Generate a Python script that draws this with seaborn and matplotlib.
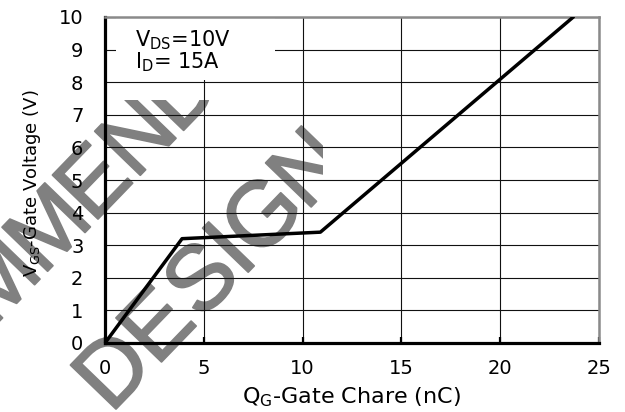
import math
import matplotlib
matplotlib.use("Agg")
import matplotlib.pyplot as plt
import matplotlib.patheffects as pe
import pandas as pd
import seaborn as sns
from matplotlib.font_manager import FontProperties
from matplotlib.patches import Rectangle
from matplotlib.textpath import TextPath
from matplotlib.transforms import Bbox, TransformedBbox

# Gate-charge curve: VGS versus QG (VDS = 10 V, ID = 15 A)
qg_nc = [0.0, 3.9, 10.9, 23.7]
vgs_v = [0.0, 3.2, 3.4, 10.0]

x_ticks = [0, 5, 10, 15, 20, 25]
y_ticks = list(range(0, 11))

x_label = r"Q$_G$-Gate Chare (nC)"
y_label = r"V$_{GS}$-Gate Voltage (V)"
cond_lines = [r"V$_{DS}$=10V", r"I$_D$= 15A"]

# stamp across the plot
stamp_line1 = "RECOMMENDED"
stamp_line2 = "DESIGN"

sns.set_theme(style="white")
plt.rcParams["font.family"] = ["DejaVu Sans"]
plt.rcParams["mathtext.default"] = "regular"
for key in ("text.color", "axes.labelcolor", "xtick.color", "ytick.color"):
    plt.rcParams[key] = "black"

W, H = 625, 412
DPI = 100
fig = plt.figure(figsize=(W / DPI, H / DPI), dpi=DPI)
fig.patch.set_facecolor("white")

# plot area in pixels: x 105..599, y 17..343 (from top)
ax = fig.add_axes([105 / W, 1 - 343 / H, 494 / W, 326 / H])
ax.set_facecolor("none")

# ---- stamp: sans letters set one by one along a slanted baseline
st_family = "Liberation Sans"
st_em = 92.0          # px
st_gap = 11.0         # px between letters
st_color = "#808080"
st_prop = FontProperties(family=st_family)
st_angle = 46
ux, uy = math.cos(math.radians(st_angle)), -math.sin(math.radians(st_angle))
st_clip = TransformedBbox(Bbox.from_extents(0, 0, 323 / W, 1 - 100 / H), fig.transFigure)
st_effects = [pe.withStroke(linewidth=1.3, foreground=st_color)]


def ink_span(ch):
    ext = TextPath((0, 0), ch, size=st_em, prop=st_prop).get_extents()
    return ext.x0, ext.x1


def stamp_word(word, ref_index, ref_px):
    """Letter `ref_index` has its ink starting at pixel ref_px (image coords)."""
    spans = [ink_span(ch) for ch in word]
    starts = [0.0]
    for (a, b) in spans[:-1]:
        starts.append(starts[-1] + (b - a) + st_gap)
    base = starts[ref_index]
    for ch, s, (a, b) in zip(word, starts, spans):
        d = s - base - a          # glyph origin along the baseline
        px, py = ref_px[0] + d * ux, ref_px[1] + d * uy
        t = fig.text(px / W, 1 - py / H, ch, rotation=st_angle, rotation_mode="anchor",
                     ha="left", va="baseline", fontsize=st_em * 72 / DPI,
                     family=st_family, color=st_color, zorder=-1,
                     path_effects=st_effects)
        t.set_clip_box(st_clip)
        t.set_clip_on(True)


stamp_word(stamp_line1, 6, (98, 219))
stamp_word(stamp_line2, 0, (116, 409))

# ---- data
df = pd.DataFrame({"QG": qg_nc, "VGS": vgs_v})
sns.lineplot(data=df, x="QG", y="VGS", sort=False, estimator=None,
             color="black", linewidth=2.5, ax=ax, zorder=4)

ax.set_xlim(x_ticks[0], x_ticks[-1])
ax.set_ylim(y_ticks[0], y_ticks[-1])
ax.set_xticks(x_ticks)
ax.set_yticks(y_ticks)
ax.grid(True, color="#111111", linewidth=0.8)
ax.set_axisbelow(True)

# white backing behind the test-condition note
ax.add_patch(Rectangle((0.022, 0.806), 0.322, 0.194, transform=ax.transAxes,
                       facecolor="white", edgecolor="none", zorder=1))
ax.text(1.52, 9.09, cond_lines[0], fontsize=15, ha="left", va="baseline", zorder=5)
ax.text(1.52, 8.43, cond_lines[1], fontsize=15, ha="left", va="baseline", zorder=5)

ax.tick_params(axis="x", direction="in", length=4, width=1.6, color="black",
               labelsize=14, pad=11.5, bottom=True)
ax.tick_params(axis="y", direction="in", length=0, labelsize=14, pad=15.5, left=True)

for side in ("left", "bottom"):
    ax.spines[side].set_color("black")
    ax.spines[side].set_linewidth(2.3)
for side in ("top", "right"):
    ax.spines[side].set_color("#8a8a8a")
    ax.spines[side].set_linewidth(1.8)

ax.set_xlabel(x_label, fontsize=16, va="top")
ax.xaxis.set_label_coords(0.5, -0.13)
ax.set_ylabel(y_label, fontsize=13, va="bottom")
ax.yaxis.set_label_coords(-0.1255, 0.489)

fig.savefig("out.png", dpi=DPI)
